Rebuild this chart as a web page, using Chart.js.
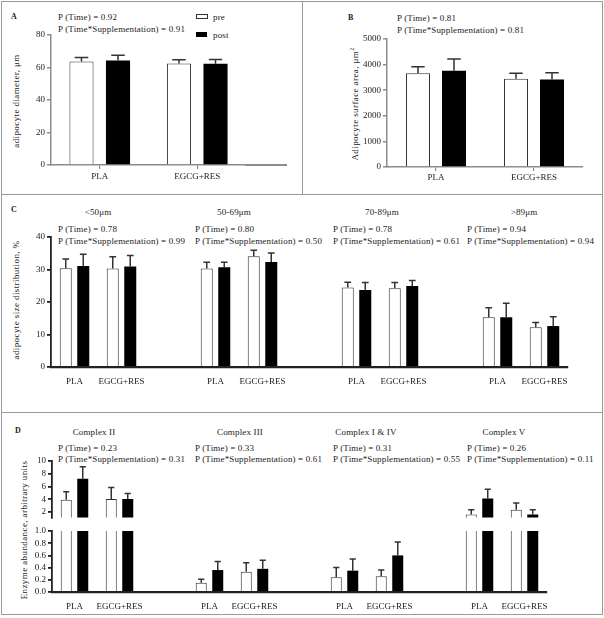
<!DOCTYPE html>
<html lang="en">
<head>
<meta charset="UTF-8">
<title>Adipocyte size and enzyme abundance</title>
<script src="https://cdn.jsdelivr.net/npm/chart.js"></script>
<style>
body {
    margin: 0;
    background: #fff;
    font-family: "Liberation Serif", serif;
    color: #222;
}
#page {
    position: relative;
    width: 604px;
    height: 618px;
    overflow: hidden;
}
canvas { position: absolute; }
.frame { position: absolute; left: 1px; top: 1px; width: 600px; height: 612px; border: 1px solid #9a9a9a; }
.hl { position: absolute; left: 1px; width: 602px; height: 0; border-top: 1px solid #9a9a9a; }
.vl { position: absolute; width: 0; border-left: 1px solid #9a9a9a; }
.t {
    position: absolute;
    font-size: 9px;
    line-height: 10px;
    letter-spacing: 0.15px;
    white-space: nowrap;
}
.mid { transform: translateX(-50%); }
.tag { font-weight: bold; font-size: 8px; }
.ytitle {
    position: absolute;
    font-size: 9px;
    line-height: 10px;
    letter-spacing: 0.4px;
    white-space: nowrap;
    transform: translate(-50%, -50%) rotate(-90deg);
}
.box { position: absolute; width: 11px; height: 4px; }
</style>
</head>
<body>
<div id="page">
    <div class="frame"></div>
    <div class="vl" style="left:302px; top:1px; height:193px;"></div>
    <div class="hl" style="top:194px;"></div>
    <div class="hl" style="top:412px;"></div>
    <!-- panel A's x axis runs on past the last category -->
    <div style="position:absolute; left:245px; top:164px; width:42px; height:1.5px; background:#8c8c8c;"></div>

    <!-- panel A -->
    <div class="t tag" style="left:11px; top:12px;">A</div>
    <div class="t" style="left:58px; top:12px;">P (Time) = 0.92</div>
    <div class="t" style="left:58px; top:24px;">P (Time*Supplementation) = 0.91</div>
    <div class="box" style="left:196px; top:14px; border:1px solid #333; background:#fff; width:10px; height:3px;"></div>
    <div class="t" style="left:213px; top:12px;">pre</div>
    <div class="box" style="left:196px; top:32px; background:#000; height:5px;"></div>
    <div class="t" style="left:213px; top:30px;">post</div>
    <div class="ytitle" style="left:16px; top:101px;">adipocyte diameter, μm</div>

    <!-- panel B -->
    <div class="t tag" style="left:348px; top:13px;">B</div>
    <div class="t" style="left:397px; top:13px;">P (Time) = 0.81</div>
    <div class="t" style="left:397px; top:25px;">P (Time*Supplementation) = 0.81</div>
    <div class="ytitle" style="left:353px; top:104px;">Adipocyte surface area, μm<sup style="font-size:6px;">2</sup></div>

    <!-- panel C -->
    <div class="t tag" style="left:11px; top:205px;">C</div>
    <div class="t mid" style="left:98px; top:207px;">&lt;50μm</div>
    <div class="t mid" style="left:234px; top:207px;">50-69μm</div>
    <div class="t mid" style="left:382px; top:207px;">70-89μm</div>
    <div class="t mid" style="left:524px; top:207px;">&gt;89μm</div>
    <div class="t" style="left:58px; top:224px;">P (Time) = 0.78</div>
    <div class="t" style="left:58px; top:236px;">P (Time*Supplementation) = 0.99</div>
    <div class="t" style="left:195px; top:224px;">P (Time) = 0.80</div>
    <div class="t" style="left:195px; top:236px;">P (Time*Supplementation) = 0.50</div>
    <div class="t" style="left:333px; top:224px;">P (Time) = 0.78</div>
    <div class="t" style="left:333px; top:236px;">P (Time*Supplementation) = 0.61</div>
    <div class="t" style="left:467px; top:224px;">P (Time) = 0.94</div>
    <div class="t" style="left:467px; top:236px;">P (Time*Supplementation) = 0.94</div>
    <div class="ytitle" style="left:16px; top:300px;">adipocyte size distribution, %</div>

    <!-- panel D -->
    <div class="t tag" style="left:15px; top:426px;">D</div>
    <div class="t mid" style="left:94px; top:427px;">Complex II</div>
    <div class="t mid" style="left:240px; top:427px;">Complex III</div>
    <div class="t mid" style="left:366px; top:427px;">Complex I &amp; IV</div>
    <div class="t mid" style="left:504px; top:427px;">Complex V</div>
    <div class="t" style="left:58px; top:443px;">P (Time) = 0.23</div>
    <div class="t" style="left:58px; top:454px;">P (Time*Supplementation) = 0.31</div>
    <div class="t" style="left:195px; top:443px;">P (Time) = 0.33</div>
    <div class="t" style="left:195px; top:454px;">P (Time*Supplementation) = 0.61</div>
    <div class="t" style="left:333px; top:443px;">P (Time) = 0.31</div>
    <div class="t" style="left:333px; top:454px;">P (Time*Supplementation) = 0.55</div>
    <div class="t" style="left:467px; top:443px;">P (Time) = 0.26</div>
    <div class="t" style="left:467px; top:454px;">P (Time*Supplementation) = 0.11</div>
    <div class="ytitle" style="left:24px; top:530px;">Enzyme abundance, arbitrary units</div>

    <canvas id="chartA"></canvas>
    <canvas id="chartB"></canvas>
    <canvas id="chartC"></canvas>
    <canvas id="chartDTop"></canvas>
    <canvas id="chartDBottom"></canvas>
</div>

<script>
// categories
const groupLabels = ['PLA', 'EGCG+RES'];
const splitLabels = ['PLA', 'EGCG+RES', '', 'PLA', 'EGCG+RES', '', 'PLA', 'EGCG+RES', '', 'PLA', 'EGCG+RES'];

// A: adipocyte diameter
const aPre = [63.7, 62.5];
const aPreErr = [2.5, 2.2];
const aPost = [64.3, 62.3];
const aPostErr = [3.3, 2.6];
const aTicks = [0, 20, 40, 60, 80];

// B: adipocyte surface area
const bPre = [3660, 3450];
const bPreErr = [260, 210];
const bPost = [3760, 3420];
const bPostErr = [460, 260];
const bTicks = [0, 1000, 2000, 3000, 4000, 5000];

// C: size distribution (<50, 50-69, 70-89, >89 um)
const cPre = [30.4, 30.3, null, 30.3, 34.1, null, 24.5, 24.2, null, 15.3, 12.2];
const cPreErr = [2.8, 3.6, null, 1.9, 1.8, null, 1.6, 1.8, null, 2.9, 1.5];
const cPost = [31.1, 30.9, null, 30.7, 32.3, null, 23.7, 24.9, null, 15.3, 12.6];
const cPostErr = [3.6, 3.4, null, 1.5, 2.8, null, 2.3, 1.7, null, 4.3, 2.9];
const cTicks = [0, 10, 20, 30, 40];

// D: complex II, III, I & IV, V
const dPre = [3.94, 4.04, null, 0.15, 0.33, null, 0.24, 0.26, null, 1.63, 2.35];
const dPreErr = [1.26, 1.8, null, 0.06, 0.15, null, 0.16, 0.10, null, 0.72, 1.07];
const dPost = [7.2, 4.04, null, 0.36, 0.38, null, 0.35, 0.60, null, 4.14, 1.63];
const dPostErr = [1.9, 0.86, null, 0.14, 0.14, null, 0.19, 0.22, null, 1.42, 0.72];
const dTopTicks = [2, 4, 6, 8, 10];
const dBottomTicks = [0, 0.2, 0.4, 0.6, 0.8, 1.0];

Chart.defaults.font.family = '"Liberation Serif", serif';
Chart.defaults.font.size = 9;
Chart.defaults.color = '#222';

// category names under the x axis, centred on each category
const xLabels = {
    id: 'xLabels',
    afterDraw(chart, args, opts) {
        const x = chart.scales.x;
        if (!x || !x.options.display) return;
        const ctx = chart.ctx;
        ctx.save();
        ctx.font = '9px "Liberation Serif", serif';
        ctx.fillStyle = '#222';
        ctx.textAlign = 'center';
        ctx.textBaseline = 'middle';
        chart.data.labels.forEach((lab, i) => {
            if (!lab) return;
            ctx.fillText(lab, x.getPixelForValue(i), chart.chartArea.bottom + opts.gap);
        });
        ctx.restore();
    }
};

// one-sided (upward) error bars
const errorBars = {
    id: 'errorBars',
    afterDatasetsDraw(chart) {
        const ctx = chart.ctx;
        const area = chart.chartArea;
        const y = chart.scales.y;
        ctx.save();
        ctx.beginPath();
        ctx.rect(area.left, area.top - 1, area.right - area.left, area.bottom - area.top + 1);
        ctx.clip();
        ctx.strokeStyle = '#333';
        ctx.lineWidth = 1.5;
        chart.data.datasets.forEach((ds, i) => {
            chart.getDatasetMeta(i).data.forEach((bar, j) => {
                const v = ds.data[j], e = ds.errors[j];
                if (v == null || e == null) return;
                const top = y.getPixelForValue(v + e);
                const cap = bar.width * 0.28;
                ctx.beginPath();
                ctx.moveTo(bar.x, bar.y);
                ctx.lineTo(bar.x, top);
                ctx.moveTo(bar.x - cap, top);
                ctx.lineTo(bar.x + cap, top);
                ctx.stroke();
            });
        });
        ctx.restore();
    }
};

function makeBars(o) {
    const padTop = 8;
    const w = o.wy + o.areaW + o.padR;
    const h = padTop + o.areaH + (o.showX ? o.hx : o.padB);
    const canvas = document.getElementById(o.id);
    canvas.width = w;
    canvas.height = h;
    canvas.style.left = (o.left - o.wy) + 'px';
    canvas.style.top = (o.top - padTop) + 'px';

    return new Chart(canvas, {
        type: 'bar',
        data: {
            labels: o.labels,
            datasets: [
                { label: 'pre', data: o.pre, errors: o.preErr, backgroundColor: '#fff', borderColor: '#333', borderWidth: 1,
                  categoryPercentage: o.catPct, barPercentage: o.barPct, clip: 0 },
                { label: 'post', data: o.post, errors: o.postErr, backgroundColor: '#000', borderWidth: 0,
                  categoryPercentage: o.catPct, barPercentage: o.barPct, clip: 0 }
            ]
        },
        options: {
            responsive: false,
            animation: false,
            devicePixelRatio: 1,
            layout: { padding: { top: padTop, right: o.padR, bottom: o.showX ? 0 : o.padB, left: 0 } },
            plugins: {
                legend: { display: false },
                tooltip: { enabled: false },
                xLabels: { gap: o.labelGap }
            },
            scales: {
                x: {
                    display: o.showX,
                    offset: true,
                    grid: { display: o.xTickMarks, offset: false, drawOnChartArea: false, drawTicks: o.xTickMarks,
                            tickLength: 4, color: o.axisColor, lineWidth: 1.2 },
                    border: { color: o.axisColor, width: o.xAxisWidth },
                    ticks: { display: false },
                    afterFit: s => { s.height = o.hx; }
                },
                y: {
                    min: o.yMin,
                    max: o.yMax,
                    grid: { drawOnChartArea: false, drawTicks: true, tickLength: 4, color: o.axisColor, lineWidth: o.axisWidth },
                    border: { color: o.axisColor, width: o.axisWidth },
                    ticks: { autoSkip: false, padding: 2, callback: o.fmt || (v => String(v)) },
                    afterBuildTicks: s => { s.ticks = o.yTicks.map(v => ({ value: v })); },
                    afterFit: s => { s.width = o.wy; }
                }
            }
        },
        plugins: [errorBars, xLabels]
    });
}

makeBars({
    id: 'chartA', labels: groupLabels, pre: aPre, preErr: aPreErr, post: aPost, postErr: aPostErr,
    left: 51, top: 35, areaW: 195, areaH: 130, padR: 6, wy: 40, hx: 30,
    showX: true, xTickMarks: true, labelGap: 12,
    yMin: 0, yMax: 80, yTicks: aTicks,
    axisColor: '#8c8c8c', axisWidth: 1.5, xAxisWidth: 1.5, catPct: 0.749, barPct: 0.66
});

makeBars({
    id: 'chartB', labels: groupLabels, pre: bPre, preErr: bPreErr, post: bPost, postErr: bPostErr,
    left: 387, top: 39, areaW: 196, areaH: 128, padR: 6, wy: 40, hx: 30,
    showX: true, xTickMarks: true, labelGap: 11,
    yMin: 0, yMax: 5000, yTicks: bTicks,
    axisColor: '#8c8c8c', axisWidth: 1.5, xAxisWidth: 1.5, catPct: 0.735, barPct: 0.667
});

makeBars({
    id: 'chartC', labels: splitLabels, pre: cPre, preErr: cPreErr, post: cPost, postErr: cPostErr,
    left: 51, top: 237, areaW: 517, areaH: 130, padR: 8, wy: 40, hx: 25,
    showX: true, xTickMarks: false, labelGap: 15,
    yMin: 0, yMax: 40, yTicks: cTicks,
    axisColor: '#222', axisWidth: 1.8, xAxisWidth: 2.2, catPct: 0.745, barPct: 0.686
});

makeBars({
    id: 'chartDTop', labels: splitLabels, pre: dPre, preErr: dPreErr, post: dPost, postErr: dPostErr,
    left: 52, top: 461, areaW: 495, areaH: 58, padR: 8, padB: 6, wy: 41, hx: 0,
    showX: false, xTickMarks: false, labelGap: 0,
    yMin: 1.13, yMax: 10, yTicks: dTopTicks,
    axisColor: '#222', axisWidth: 1.8, xAxisWidth: 2, catPct: 0.733, barPct: 0.667
});

makeBars({
    id: 'chartDBottom', labels: splitLabels, pre: dPre, preErr: dPreErr, post: dPost, postErr: dPostErr,
    left: 52, top: 531, areaW: 495, areaH: 61, padR: 8, wy: 41, hx: 24,
    showX: true, xTickMarks: false, labelGap: 15,
    yMin: 0, yMax: 1, yTicks: dBottomTicks, fmt: v => v.toFixed(1),
    axisColor: '#222', axisWidth: 1.8, xAxisWidth: 2.2, catPct: 0.733, barPct: 0.667
});
</script>
</body>
</html>
